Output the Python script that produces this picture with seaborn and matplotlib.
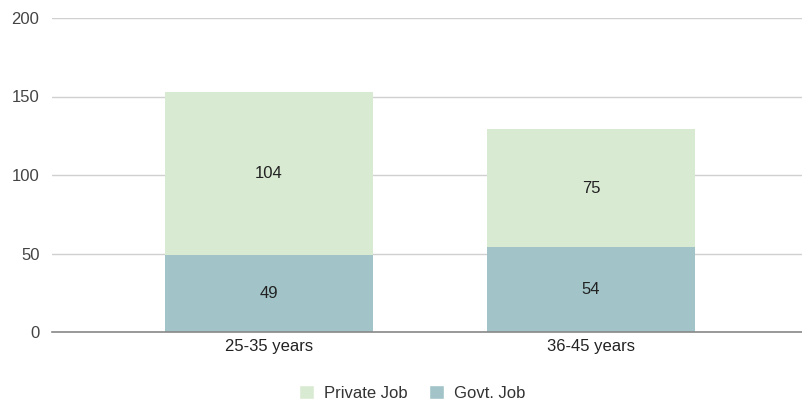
import matplotlib
matplotlib.use("Agg")
import matplotlib.pyplot as plt
import seaborn as sns
import pandas as pd
from matplotlib.patches import Patch

categories = ["25-35 years", "36-45 years"]
govt_job = [49, 54]
private_job = [104, 75]
yticks = [0, 50, 100, 150, 200]

c_private = "#d9ead3"
c_govt = "#a2c4c9"

sns.set_theme(style="white")
plt.rcParams['font.family'] = ['Liberation Sans', 'DejaVu Sans']

df = pd.DataFrame({"cat": categories, "govt": govt_job, "private": private_job})
df["total"] = df["govt"] + df["private"]

fig = plt.figure(figsize=(8.03, 4.05), dpi=100)
ax = fig.add_axes([52/803, 1-332/405, 1-52/803, (332-18)/405])

sns.barplot(data=df, x="cat", y="total", color=c_private, width=0.646,
            saturation=1, ax=ax, zorder=2, linewidth=0)
sns.barplot(data=df, x="cat", y="govt", color=c_govt, width=0.646,
            saturation=1, ax=ax, zorder=3, linewidth=0)

for i, (g, p) in enumerate(zip(govt_job, private_job)):
    ax.text(i, g/2, str(g), ha="center", va="center", fontsize=12, color="#222222", zorder=5)
    ax.text(i, g + p/2, str(p), ha="center", va="center", fontsize=12, color="#222222", zorder=5)

ax.set_ylim(0, 200)
ax.set_xlim(-0.674, 1.658)
ax.set_yticks(yticks)
ax.set_yticklabels([str(t) for t in yticks], fontsize=12, color="#444444")
ax.tick_params(axis="x", labelsize=12, colors="#222222", length=0, pad=5)
ax.tick_params(axis="y", length=0, pad=9)
for lab in ax.get_xticklabels():
    lab.set_color("#222222")
ax.set_xlabel("")
ax.set_ylabel("")
ax.grid(axis="y", color="#d0d0d0", linewidth=1, zorder=0)
ax.set_axisbelow(True)
for s in ["top", "right", "left"]:
    ax.spines[s].set_visible(False)
ax.spines["bottom"].set_color("#888888")
ax.spines["bottom"].set_linewidth(1.2)
ax.spines["bottom"].set_zorder(6)

handles = [Patch(facecolor=c_private, label="Private Job"),
           Patch(facecolor=c_govt, label="Govt. Job")]
fig.legend(handles=handles, loc="center", bbox_to_anchor=(412/803, 1-393/405),
           ncol=2, frameon=False, fontsize=12, handlelength=0.9, handleheight=0.9,
           columnspacing=1.3, handletextpad=0.6, labelcolor="#333333",
           borderpad=0, borderaxespad=0)

fig.savefig("out.png", dpi=100)
